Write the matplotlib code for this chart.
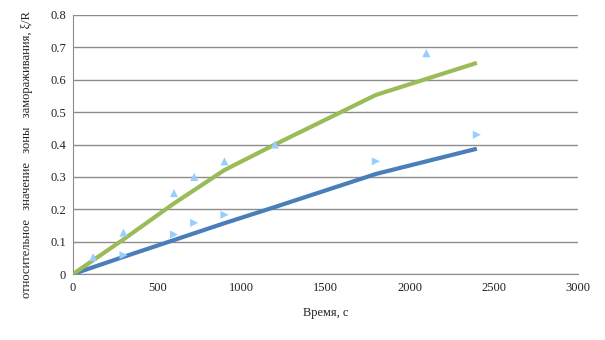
import matplotlib
matplotlib.use("Agg")
import matplotlib.pyplot as plt

# Data
time_line = [0, 300, 600, 900, 1200, 1800, 2400]
blue_line = [0, 0.053, 0.105, 0.157, 0.207, 0.309, 0.387]
green_line = [0, 0.107, 0.218, 0.321, 0.400, 0.553, 0.652]

up_time = [120, 300, 600, 720, 900, 1200, 2100]
up_vals = [0.052, 0.128, 0.250, 0.300, 0.348, 0.400, 0.682]
right_time = [300, 600, 720, 900, 1800, 2400]
right_vals = [0.058, 0.122, 0.158, 0.183, 0.348, 0.430]

x_ticks = [0, 500, 1000, 1500, 2000, 2500, 3000]
y_ticks = [0, 0.1, 0.2, 0.3, 0.4, 0.5, 0.6, 0.7, 0.8]
y_tick_labels = ["0", "0.1", "0.2", "0.3", "0.4", "0.5", "0.6", "0.7", "0.8"]

plt.rcParams['font.family'] = ['Liberation Serif', 'DejaVu Serif']

fig = plt.figure(figsize=(6.05, 3.4), dpi=100)
ax = fig.add_axes([0.1207, 0.194, 0.955 - 0.1207, 0.956 - 0.194])

ax.set_xlim(0, 3000)
ax.set_ylim(0, 0.8)
ax.set_yticks(y_ticks)
ax.set_yticklabels(y_tick_labels)
ax.set_xticks(x_ticks)
ax.yaxis.grid(True, color='#8c8c8c', linewidth=1.0)
ax.set_axisbelow(True)
for s in ['top', 'right']:
    ax.spines[s].set_visible(False)
for s in ['left', 'bottom']:
    ax.spines[s].set_color('#8c8c8c')
ax.tick_params(axis='y', length=0, labelsize=9, colors='#222222', pad=5)
ax.tick_params(axis='x', length=0, labelsize=9, colors='#222222', pad=6)

ax.plot(time_line, blue_line, color='#4A7EBB', linewidth=3.0, solid_capstyle='butt', zorder=3)
ax.plot(time_line, green_line, color='#9BBB59', linewidth=3.0, solid_capstyle='butt', zorder=3)
ax.scatter(up_time, up_vals, marker='^', s=34, color='#99CCFF', edgecolors='none', zorder=4)
ax.scatter(right_time, right_vals, marker='>', s=34, color='#99CCFF', edgecolors='none', zorder=4)

ax.set_xlabel('Время, с', fontsize=9, color='#222222', labelpad=9)
fig.text(0.045, 0.545, 'относительное   значение   зоны   замораживания, ξ/R',
         rotation=90, fontsize=9, color='#222222', ha='center', va='center')

fig.savefig('out.png', dpi=100, facecolor='white')
